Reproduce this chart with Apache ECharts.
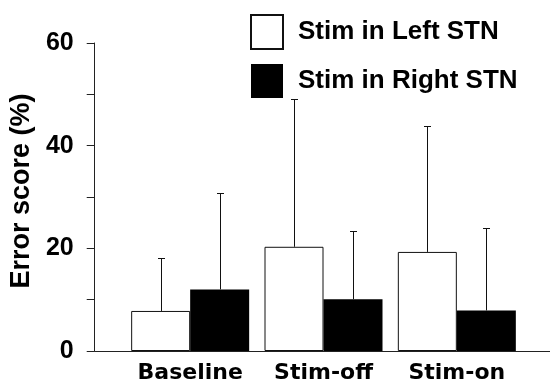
<!DOCTYPE html>
<html>
<head>
<meta charset="utf-8">
<script src="https://cdn.jsdelivr.net/npm/echarts@6/dist/echarts.min.js"></script>
<style>
  html, body { margin: 0; padding: 0; background: #fff; }
  #chart { width: 550px; height: 385px; }
</style>
</head>
<body>
<div id="chart"></div>
<script>
  // data
  var categories = ['Baseline', 'Stim-off', 'Stim-on']
  var seriesNames = ['Stim in Left STN', 'Stim in Right STN']
  var leftMean = [7.8, 20.3, 19.3]
  var leftUpper = [18.2, 49.1, 43.9]
  var rightMean = [12.0, 10.1, 7.9]
  var rightUpper = [30.7, 23.4, 24.0]

  var BAR_W = 59
  var FONT = "'Liberation Sans', Arial, Helvetica, sans-serif"

  // [category index, bar top, error top, side (-1 left bar / +1 right bar)]
  var errData = []
  categories.forEach(function (c, i) {
    errData.push([i, leftMean[i], leftUpper[i], -1])
    errData.push([i, rightMean[i], rightUpper[i], 1])
  })

  function renderErr(params, api) {
    var cat = api.value(0)
    var base = api.coord([cat, api.value(1)])
    var tip = api.coord([cat, api.value(2)])
    var x = Math.round(base[0] + api.value(3) * BAR_W / 2) + 0.5
    var yTip = Math.round(tip[1]) + 0.5
    var st = { stroke: '#111', lineWidth: 1 }
    return {
      type: 'group',
      children: [
        { type: 'line', shape: { x1: x, y1: base[1], x2: x, y2: yTip }, style: st },
        { type: 'line', shape: { x1: x - 3.5, y1: yTip, x2: x + 3.5, y2: yTip }, style: st }
      ]
    }
  }

  var chart = echarts.init(document.getElementById('chart'))
  chart.setOption({
    animation: false,
    backgroundColor: '#fff',
    textStyle: { fontFamily: FONT },
    legend: {
      data: seriesNames,
      orient: 'vertical',
      left: 250,
      top: 14,
      padding: 0,
      itemWidth: 32,
      itemHeight: 34,
      itemGap: 14,
      icon: 'rect',
      textStyle: { fontFamily: FONT, fontSize: 26, fontWeight: 'bold', color: '#000', padding: [0, 0, 0, 10] }
    },
    grid: [
      { left: 92, right: 0, top: 43, bottom: 34, containLabel: false },
      { left: 123.5, right: 26.5, top: 43, bottom: 34, containLabel: false }
    ],
    xAxis: [
      {
        gridIndex: 0, type: 'value', min: 0, max: 1,
        axisLine: { show: true, lineStyle: { color: '#222', width: 1 } },
        axisTick: { show: false }, axisLabel: { show: false }, splitLine: { show: false }
      },
      {
        gridIndex: 1, type: 'category', data: categories,
        axisLine: { show: false }, axisTick: { show: false },
        axisLabel: { interval: 0, margin: 11, fontFamily: "'DejaVu Sans', sans-serif", fontSize: 22, fontWeight: 'bold', color: '#000' }
      }
    ],
    yAxis: [
      {
        gridIndex: 0, type: 'value', min: 0, max: 60, interval: 10,
        name: 'Error score (%)', nameLocation: 'middle', nameGap: 59,
        nameTextStyle: { fontFamily: FONT, fontSize: 27, fontWeight: 'bold', color: '#000', padding: [0, 0, 0, 12] },
        axisLine: { show: true, lineStyle: { color: '#222', width: 1 } },
        axisTick: { show: true, inside: false, length: 8, lineStyle: { color: '#222' } },
        axisLabel: {
          margin: 21, fontFamily: FONT, fontSize: 25, fontWeight: 'bold', color: '#000',
          formatter: function (v) { return v % 20 === 0 ? String(v) : '' }
        },
        splitLine: { show: false }
      },
      { gridIndex: 1, type: 'value', min: 0, max: 60, show: false }
    ],
    series: [
      {
        name: seriesNames[0], type: 'bar', xAxisIndex: 1, yAxisIndex: 1,
        data: leftMean, barWidth: BAR_W, barGap: '0%',
        itemStyle: { color: '#fff', borderColor: '#111', borderWidth: 1 }
      },
      {
        name: seriesNames[1], type: 'bar', xAxisIndex: 1, yAxisIndex: 1,
        data: rightMean, barWidth: BAR_W, barGap: '0%',
        itemStyle: { color: '#000' }
      },
      {
        type: 'custom', xAxisIndex: 1, yAxisIndex: 1, z: 3,
        renderItem: renderErr, data: errData, silent: true
      }
    ]
  })
</script>
</body>
</html>
